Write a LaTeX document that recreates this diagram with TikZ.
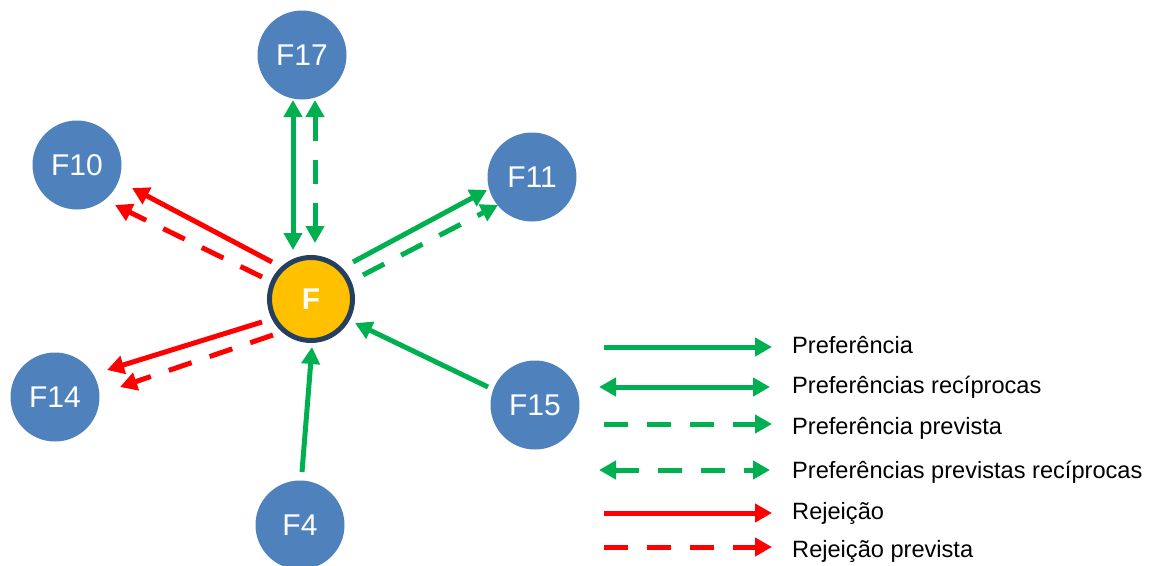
\documentclass[tikz,border=0pt]{standalone}
\usepackage{fontspec}
\setmainfont{Liberation Sans}
\usetikzlibrary{arrows.meta}
\definecolor{nodeblue}{HTML}{4F81BD}
\definecolor{cgreen}{HTML}{00B050}
\definecolor{cred}{HTML}{FF0000}
\definecolor{cgold}{HTML}{FFC000}
\definecolor{cnavy}{HTML}{243F60}
\tikzset{
  fnode/.style={circle, fill=nodeblue, minimum size=89pt, inner sep=0pt, text=white, font=\fontsize{30}{30}\selectfont},
  center/.style={circle, fill=cgold, draw=cnavy, line width=5pt, minimum size=83pt, inner sep=0pt, text=white, font=\fontsize{30}{30}\selectfont\bfseries},
  conn/.style={line width=5pt},
  tip/.style={-{Triangle[length=17pt,width=18pt]}},
  tips/.style={{Triangle[length=17pt,width=18pt]}-{Triangle[length=17pt,width=18pt]}},
  dsh/.style={dash pattern=on 24pt off 19pt},
  pref/.style={conn, cgreen, tip},
  recip/.style={conn, cgreen, tips},
  rej/.style={conn, cred, tip},
  lbl/.style={anchor=base west, inner sep=0pt, font=\fontsize{23.6}{24}\selectfont}
}
\begin{document}
\begin{tikzpicture}[x=1pt, y=-1pt]
\useasboundingbox (0,0) rectangle (1150,565);
% nodes
\node[center] (F) at (311,299) {F};
\node[fnode] (F17) at (302,55) {F17};
\node[fnode] (F10) at (77,165) {F10};
\node[fnode] (F11) at (532,177) {F11};
\node[fnode] (F14) at (55,397) {F14};
\node[fnode] (F15) at (535,405) {F15};
\node[fnode] (F4) at (300,525) {F4};
% arrow endpoints
\coordinate (a17s1) at (293,250); \coordinate (a17s2) at (293,100);
\coordinate (a17d1) at (315,243); \coordinate (a17d2) at (315,100);
\coordinate (a10s1) at (272,262); \coordinate (a10s2) at (132,188);
\coordinate (a10d1) at (262,277); \coordinate (a10d2) at (115,205);
\coordinate (a14s1) at (262,322); \coordinate (a14s2) at (107,370);
\coordinate (a14d1) at (273,335); \coordinate (a14d2) at (120,387);
\coordinate (a11s1) at (353,262); \coordinate (a11s2) at (487,190);
\coordinate (a11d1) at (363,275); \coordinate (a11d2) at (498,205);
\coordinate (a15s1) at (488,387); \coordinate (a15s2) at (355,323);
\coordinate (a4s1) at (302,472); \coordinate (a4s2) at (312,347);
% connectors
\draw[recip] (a17s1) -- (a17s2);
\draw[recip, dsh] (a17d1) -- (a17d2);
\draw[rej] (a10s1) -- (a10s2);
\draw[rej, dsh] (a10d1) -- (a10d2);
\draw[rej] (a14s1) -- (a14s2);
\draw[rej, dsh] (a14d1) -- (a14d2);
\draw[pref] (a11s1) -- (a11s2);
\draw[pref, dsh] (a11d1) -- (a11d2);
\draw[pref] (a15s1) -- (a15s2);
\draw[pref] (a4s1) -- (a4s2);
% legend
\coordinate (l1a) at (604,347); \coordinate (l1b) at (772,347);
\coordinate (l2a) at (599,387); \coordinate (l2b) at (770,387);
\coordinate (l3a) at (604,424); \coordinate (l3b) at (772,424);
\coordinate (l4a) at (599,470); \coordinate (l4b) at (770,470);
\coordinate (l5a) at (604,513); \coordinate (l5b) at (772,513);
\coordinate (l6a) at (604,547); \coordinate (l6b) at (772,547);
\draw[pref] (l1a) -- (l1b);
\draw[recip] (l2a) -- (l2b);
\draw[pref, dsh] (l3a) -- (l3b);
\draw[recip, dsh] (l4a) -- (l4b);
\draw[rej] (l5a) -- (l5b);
\draw[rej, dsh] (l6a) -- (l6b);
\node[lbl] (t1) at (792,353) {Preferência};
\node[lbl] (t2) at (792,393) {Preferências recíprocas};
\node[lbl] (t3) at (792,434) {Preferência prevista};
\node[lbl] (t4) at (792,478) {Preferências previstas recíprocas};
\node[lbl] (t5) at (792,519) {Rejeição};
\node[lbl] (t6) at (792,557) {Rejeição prevista};
\end{tikzpicture}
\end{document}
